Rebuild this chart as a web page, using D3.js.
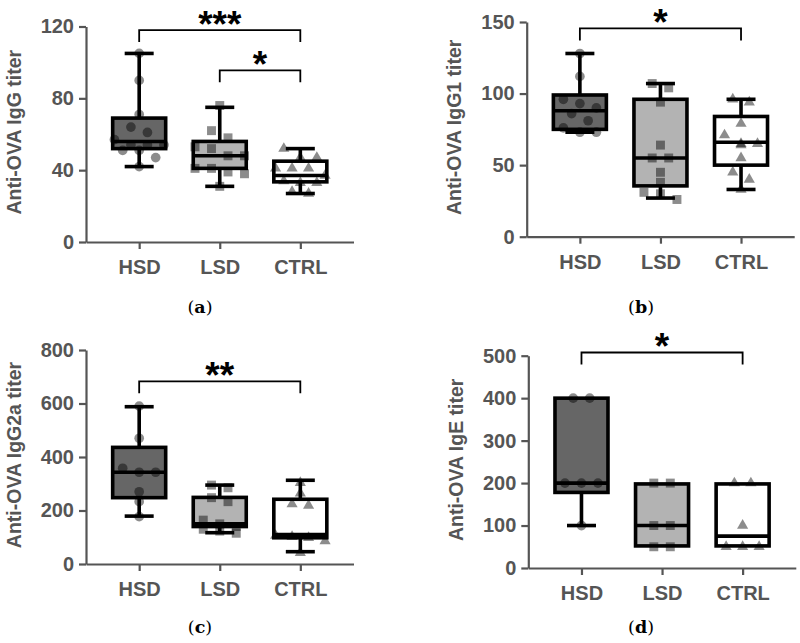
<!DOCTYPE html>
<html><head><meta charset="utf-8">
<script src="https://cdn.jsdelivr.net/npm/d3@7"></script>
<style>body{margin:0;background:#fff}</style></head>
<body><svg id="c" width="800" height="643"></svg>
<script>
const groups = ["HSD", "LSD", "CTRL"];

// (a) Anti-OVA IgG
const iggHSD  = [105, 90, 71, 64, 61, 57, 54, 54, 54, 51, 51, 47, 42];
const iggLSD  = [76, 62, 58, 53, 52, 48, 48, 41, 41, 39, 38, 31];
const iggCTRL = [52, 47, 47, 41, 41, 41, 37, 34, 33, 33, 28, 27];
const iggBox  = [[42, 52, 56, 69, 105], [31, 41, 48, 56, 75], [27, 33.5, 37, 45, 52]]; // min,q1,median,q3,max
const iggTicks = [0, 40, 80, 120];

// (b) Anti-OVA IgG1
const igg1HSD  = [128, 112, 96, 93, 90, 86, 81, 76, 73, 73];
const igg1LSD  = [107, 104, 94, 64, 55, 55, 45, 38, 31, 30, 26];
const igg1CTRL = [96, 94, 79, 71, 65, 65, 64, 55, 45, 40, 33];
const igg1Box  = [[73, 75, 88, 99, 128], [27, 35.5, 55, 96, 107], [33, 50, 66, 84, 96]];
const igg1Ticks = [0, 50, 100, 150];

// (c) Anti-OVA IgG2a
const igg2aHSD  = [590, 470, 358, 343, 343, 270, 233, 177];
const igg2aLSD  = [295, 285, 248, 233, 164, 150, 140, 130, 123, 115];
const igg2aCTRL = [304, 264, 224, 219, 106, 102, 98, 86, 42];
const igg2aBox  = [[179, 248, 343, 436, 588], [117, 140, 150, 249, 295], [46, 98, 110, 242, 313]];
const igg2aTicks = [0, 200, 400, 600, 800];

// (d) Anti-OVA IgE
const igeHSD  = [400, 400, 200, 200, 200, 100];
const igeLSD  = [200, 200, 100, 100, 50, 50];
const igeCTRL = [200, 200, 100, 50, 50, 50];
const igeBox  = [[100, 178, 200, 400, 400], [52, 52, 100, 198, 198], [52, 52, 75, 198, 198]];
const igeTicks = [0, 100, 200, 300, 400, 500];

// significance brackets: [from, to, label, y value]
const iggSig  = [["HSD", "CTRL", "***", 118], ["LSD", "CTRL", "*", 95.6]];
const igg1Sig = [["HSD", "CTRL", "*", 145.5]];
const igg2aSig = [["HSD", "CTRL", "**", 683]];
const igeSig  = [["HSD", "CTRL", "*", 507.5]];

const panels = [
  {label: "Anti-OVA IgG titer", cap: "a", pts: [iggHSD, iggLSD, iggCTRL], box: iggBox, ticks: iggTicks, sig: iggSig,
   x0: 86, y0: 242, y1: 26.5, capX: 200, capY: 313},
  {label: "Anti-OVA IgG1 titer", cap: "b", pts: [igg1HSD, igg1LSD, igg1CTRL], box: igg1Box, ticks: igg1Ticks, sig: igg1Sig,
   x0: 526.7, y0: 236.7, y1: 22, capX: 641, capY: 313},
  {label: "Anti-OVA IgG2a titer", cap: "c", pts: [igg2aHSD, igg2aLSD, igg2aCTRL], box: igg2aBox, ticks: igg2aTicks, sig: igg2aSig,
   x0: 86, y0: 564, y1: 350, capX: 200, capY: 633},
  {label: "Anti-OVA IgE titer", cap: "d", pts: [igeHSD, igeLSD, igeCTRL], box: igeBox, ticks: igeTicks, sig: igeSig,
   x0: 528.3, y0: 568, y1: 355.7, capX: 641, capY: 633}
];

const fills = ["#666666", "#b3b3b3", "#ffffff"];
const symbols = [d3.symbolCircle, d3.symbolSquare, d3.symbolTriangle];
const symSizes = [74, 80, 54];
const AX = "#555555";
const FONT = "'Liberation Sans', Arial, sans-serif";

const svg = d3.select("#c");

panels.forEach(p => {
  const g = svg.append("g");
  const x = d3.scalePoint().domain(groups).range([p.x0, p.x0 + 267.5]).padding(0.66);
  const y = d3.scaleLinear().domain([0, p.ticks[p.ticks.length - 1]]).range([p.y0, p.y1]);

  // axes
  const ya = g.append("g").attr("transform", `translate(${p.x0},0)`)
    .call(d3.axisLeft(y).tickValues(p.ticks).tickSize(7).tickSizeOuter(0).tickPadding(5));
  const xa = g.append("g").attr("transform", `translate(0,${p.y0})`)
    .call(d3.axisBottom(x).tickSize(7).tickSizeOuter(0).tickPadding(11));
  [ya, xa].forEach(a => {
    a.select(".domain").attr("stroke", AX).attr("stroke-width", 2.2);
    a.selectAll(".tick line").attr("stroke", AX).attr("stroke-width", 2.2);
    a.selectAll(".tick text").attr("fill", AX).attr("font-family", FONT)
      .attr("font-weight", "bold").attr("font-size", 20);
  });

  // y label
  g.append("text")
    .attr("transform", `translate(${p.x0 - 72.5},${(p.y0 + p.y1) / 2 - 2}) rotate(-90)`)
    .attr("text-anchor", "middle").attr("dominant-baseline", "central")
    .attr("font-family", FONT).attr("font-weight", "bold").attr("font-size", 19.5)
    .attr("fill", AX).text(p.label);

  // boxes
  groups.forEach((grp, i) => {
    const [mn, q1, md, q3, mx] = p.box[i];
    const cx = x(grp);
    const bw = 53, cw = 29;
    const bg = g.append("g").attr("stroke", "#000").attr("stroke-width", 3.6).attr("fill", "none");
    if (mx > q3) {
      bg.append("line").attr("x1", cx).attr("x2", cx).attr("y1", y(mx)).attr("y2", y(q3));
      bg.append("line").attr("x1", cx - cw / 2).attr("x2", cx + cw / 2).attr("y1", y(mx)).attr("y2", y(mx));
    }
    if (mn < q1) {
      bg.append("line").attr("x1", cx).attr("x2", cx).attr("y1", y(q1)).attr("y2", y(mn));
      bg.append("line").attr("x1", cx - cw / 2).attr("x2", cx + cw / 2).attr("y1", y(mn)).attr("y2", y(mn));
    }
    bg.append("rect").attr("x", cx - bw / 2).attr("width", bw)
      .attr("y", y(q3)).attr("height", y(q1) - y(q3)).attr("fill", fills[i]);
    bg.append("line").attr("x1", cx - bw / 2).attr("x2", cx + bw / 2).attr("y1", y(md)).attr("y2", y(md));
  });

  // points (row-based spread)
  groups.forEach((grp, i) => {
    const cx = x(grp);
    const vals = p.pts[i].slice().sort((a, b) => b - a);
    const rows = [];
    vals.forEach(v => {
      const py = y(v);
      const last = rows[rows.length - 1];
      if (last && py - last.start < 9) last.items.push(py);
      else rows.push({start: py, items: [py]});
    });
    const step = 16.5;
    const sym = d3.symbol().type(symbols[i]).size(symSizes[i]);
    rows.forEach(r => {
      const k = r.items.length;
      r.items.forEach((py, j) => {
        const px = cx + (j - (k - 1) / 2) * step;
        g.append("path").attr("d", sym()).attr("transform", `translate(${px},${py})`)
          .attr("fill", "#000").attr("fill-opacity", 0.45);
      });
    });
  });

  // significance brackets
  p.sig.forEach(([a, b, lab, v]) => {
    const yy = y(v), xa1 = x(a), xb = x(b);
    g.append("path").attr("d", `M${xa1},${yy + 12}V${yy}H${xb}V${yy + 12}`)
      .attr("fill", "none").attr("stroke", "#000").attr("stroke-width", 1.8);
    g.append("text").attr("x", (xa1 + xb) / 2).attr("y", yy + 6.5)
      .attr("text-anchor", "middle").attr("font-family", FONT).attr("font-weight", "bold")
      .attr("font-size", 37).attr("fill", "#000").text(lab);
  });

  // caption
  const cap = svg.append("text").attr("x", p.capX).attr("y", p.capY).attr("text-anchor", "middle")
    .attr("font-family", "'DejaVu Serif', serif").attr("font-size", 17.5).attr("fill", "#000");
  cap.append("tspan").text("(");
  cap.append("tspan").attr("font-weight", "bold").text(p.cap);
  cap.append("tspan").text(")");
});
</script>
</body></html>
